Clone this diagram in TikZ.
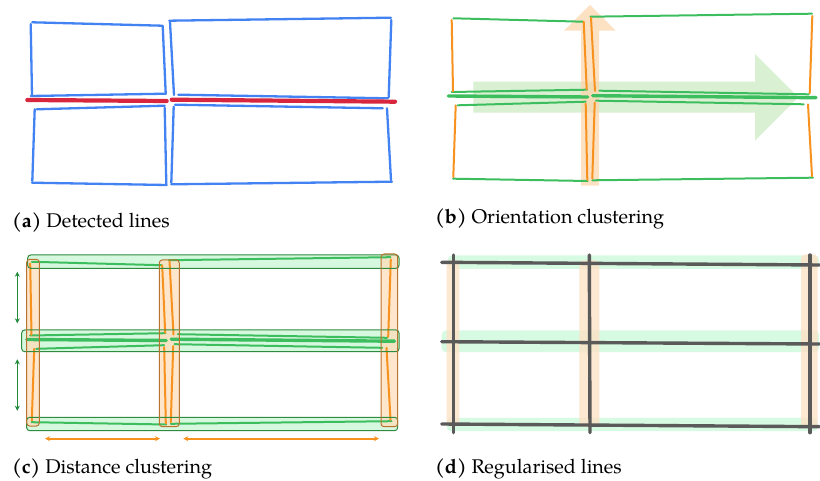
\documentclass[tikz,border=0pt]{standalone}
\usepackage{fontspec}
\setmainfont{TeX Gyre Pagella}
\usetikzlibrary{arrows.meta}
\definecolor{lblue}{HTML}{4282F2}
\definecolor{lred}{HTML}{D7263D}
\definecolor{lgreen}{HTML}{3DBE5E}
\definecolor{lorange}{HTML}{F7921E}
\definecolor{agreen}{HTML}{D9F0D3}
\definecolor{aorange}{HTML}{FCD4AA}
\definecolor{bgreen}{HTML}{CBF6D6}
\definecolor{bgreenline}{HTML}{2E8B40}
\definecolor{borange}{HTML}{FDDDBA}
\definecolor{borangeline}{HTML}{B8732E}
\definecolor{dgreen}{HTML}{1E8A3A}
\definecolor{dgray}{HTML}{5A5A5A}
\definecolor{hgreen}{HTML}{D2FADF}
\definecolor{horange}{HTML}{FDE2C6}
\newcommand{\horizsegs}[1]{%
  \draw[#1] (32.3,22.3)--(162,25.7);
  \draw[#1] (30.7,96)--(166,93.7);
  \draw[#1] (169.3,20.7)--(391,17.7);
  \draw[#1] (178.3,94.7)--(387.7,98.3);
  \draw[#1] (36.7,109.3)--(164.7,105.7);
  \draw[#1] (32,182.7)--(166.7,185);
  \draw[#1] (175,104.7)--(382.7,108.3);
  \draw[#1] (171.3,184.3)--(392,181.7);}
\newcommand{\vertsegs}[1]{%
  \draw[#1] (30.7,24)--(32,95.3);
  \draw[#1] (162.7,25.7)--(165.7,93.3);
  \draw[#1] (170,21.7)--(174,95);
  \draw[#1] (391.3,20)--(388.7,97.3);
  \draw[#1] (34.7,109.3)--(32.3,181);
  \draw[#1] (164.7,107.7)--(166.3,184);
  \draw[#1] (173.7,106.7)--(171.3,182.7);
  \draw[#1] (387,108.3)--(391,180.3);}
\newcommand{\midsegs}[1]{%
  \draw[#1] (27.3,100)--(166.7,101);
  \draw[#1] (171.7,99.7)--(395,101.7);}
\newcommand{\clusterboxes}[2]{%
  \path[#1] (27.7,255) rectangle (399,268.3);
  \path[#1] (21.7,330) rectangle (399,351.7);
  \path[#1] (26.7,417.3) rectangle (397.7,430.7);
  \path[#2] (26.7,259.3) rectangle (39.3,426);
  \path[#2] (159.3,260) rectangle (179.3,426.7);
  \path[#2] (381,254) rectangle (397.7,426.7);}
\tikzset{
  bluelin/.style={line width=2.3pt, line cap=round, lblue},
  redlin/.style={line width=4.2pt, line cap=round, lred},
  greenlin/.style={line width=2pt, line cap=round, lgreen},
  orangelin/.style={line width=2pt, line cap=round, lorange},
  greenthick/.style={line width=3.4pt, line cap=round, lgreen},
  gboxfill/.style={fill=bgreen, fill opacity=0.8, rounded corners=3pt},
  oboxfill/.style={fill=borange, fill opacity=0.75, rounded corners=3pt},
  gboxline/.style={draw=bgreenline, line width=1pt, rounded corners=3pt},
  oboxline/.style={draw=borangeline, line width=1pt, rounded corners=3pt},
  ghl/.style={fill=hgreen, fill opacity=0.9, rounded corners=4pt},
  ohl/.style={fill=horange, fill opacity=0.8, rounded corners=4pt},
  reglin/.style={line width=3.4pt, line cap=round, dgray},
  darrow/.style={line width=1.6pt, {Stealth[length=5pt,width=5pt]}-{Stealth[length=5pt,width=5pt]}},
  captxt/.style={anchor=base west, inner sep=0pt, font=\fontsize{19.8}{22}\selectfont}
}
\begin{document}
\begin{tikzpicture}[x=1pt, y=-1pt]
\useasboundingbox (0,0) rectangle (820,481);
% ---------- (a)
\begin{scope}
  \horizsegs{bluelin}
  \vertsegs{bluelin}
  \midsegs{redlin}
\end{scope}
\node[captxt] (capa) at (12,228) {\textbf{(a)} Detected lines};
% ---------- (b)
\fill[agreen] (473.3,81.7) -- (755,81.7) -- (755,54) -- (798.3,97.3) -- (755,140.7) -- (755,112.7) -- (473.3,112.7) -- cycle;
\fill[aorange, opacity=0.7] (581,185.7) -- (581,30.7) -- (564,30.7) -- (590,5) -- (615.7,30.7) -- (599,30.7) -- (599,185.7) -- cycle;
\begin{scope}[shift={(421,-4)}]
  \horizsegs{greenlin}
  \vertsegs{orangelin}
  \midsegs{greenthick}
\end{scope}
\node[captxt] (capb) at (435,224) {\textbf{(b)} Orientation clustering};
% ---------- (c)
\clusterboxes{gboxfill}{oboxfill}
\begin{scope}[shift={(-0.5,239.5)}]
  \horizsegs{greenlin}
  \vertsegs{orangelin}
  \midsegs{greenthick}
\end{scope}
\clusterboxes{gboxline}{oboxline}
\coordinate (g1a) at (17.3,271.7); \coordinate (g1b) at (17.3,323.3);
\coordinate (g2a) at (17.3,359.3); \coordinate (g2b) at (17.3,410.7);
\coordinate (o1a) at (45,438.7);   \coordinate (o1b) at (160,438.7);
\coordinate (o2a) at (183.3,438.7); \coordinate (o2b) at (379,438.7);
\draw[darrow, dgreen] (g1a) -- (g1b);
\draw[darrow, dgreen] (g2a) -- (g2b);
\draw[darrow, lorange] (o1a) -- (o1b);
\draw[darrow, lorange] (o2a) -- (o2b);
\node[captxt] (capc) at (12,473) {\textbf{(c)} Distance clustering};
% ---------- (d)
\begin{scope}[shift={(420,0.5)}]
  \clusterboxes{ghl}{ohl}
\end{scope}
\draw[reglin] (441.7,262.3) -- (819.3,265);
\draw[reglin] (441.7,341.7) -- (819.3,344);
\draw[reglin] (441.7,424) -- (819.3,426.7);
\draw[reglin] (453.3,255) -- (453.3,432.7);
\draw[reglin] (589.3,255) -- (590,432.7);
\draw[reglin] (810,255) -- (810,432.7);
\node[captxt] (capd) at (435,473) {\textbf{(d)} Regularised lines};
\end{tikzpicture}
\end{document}
